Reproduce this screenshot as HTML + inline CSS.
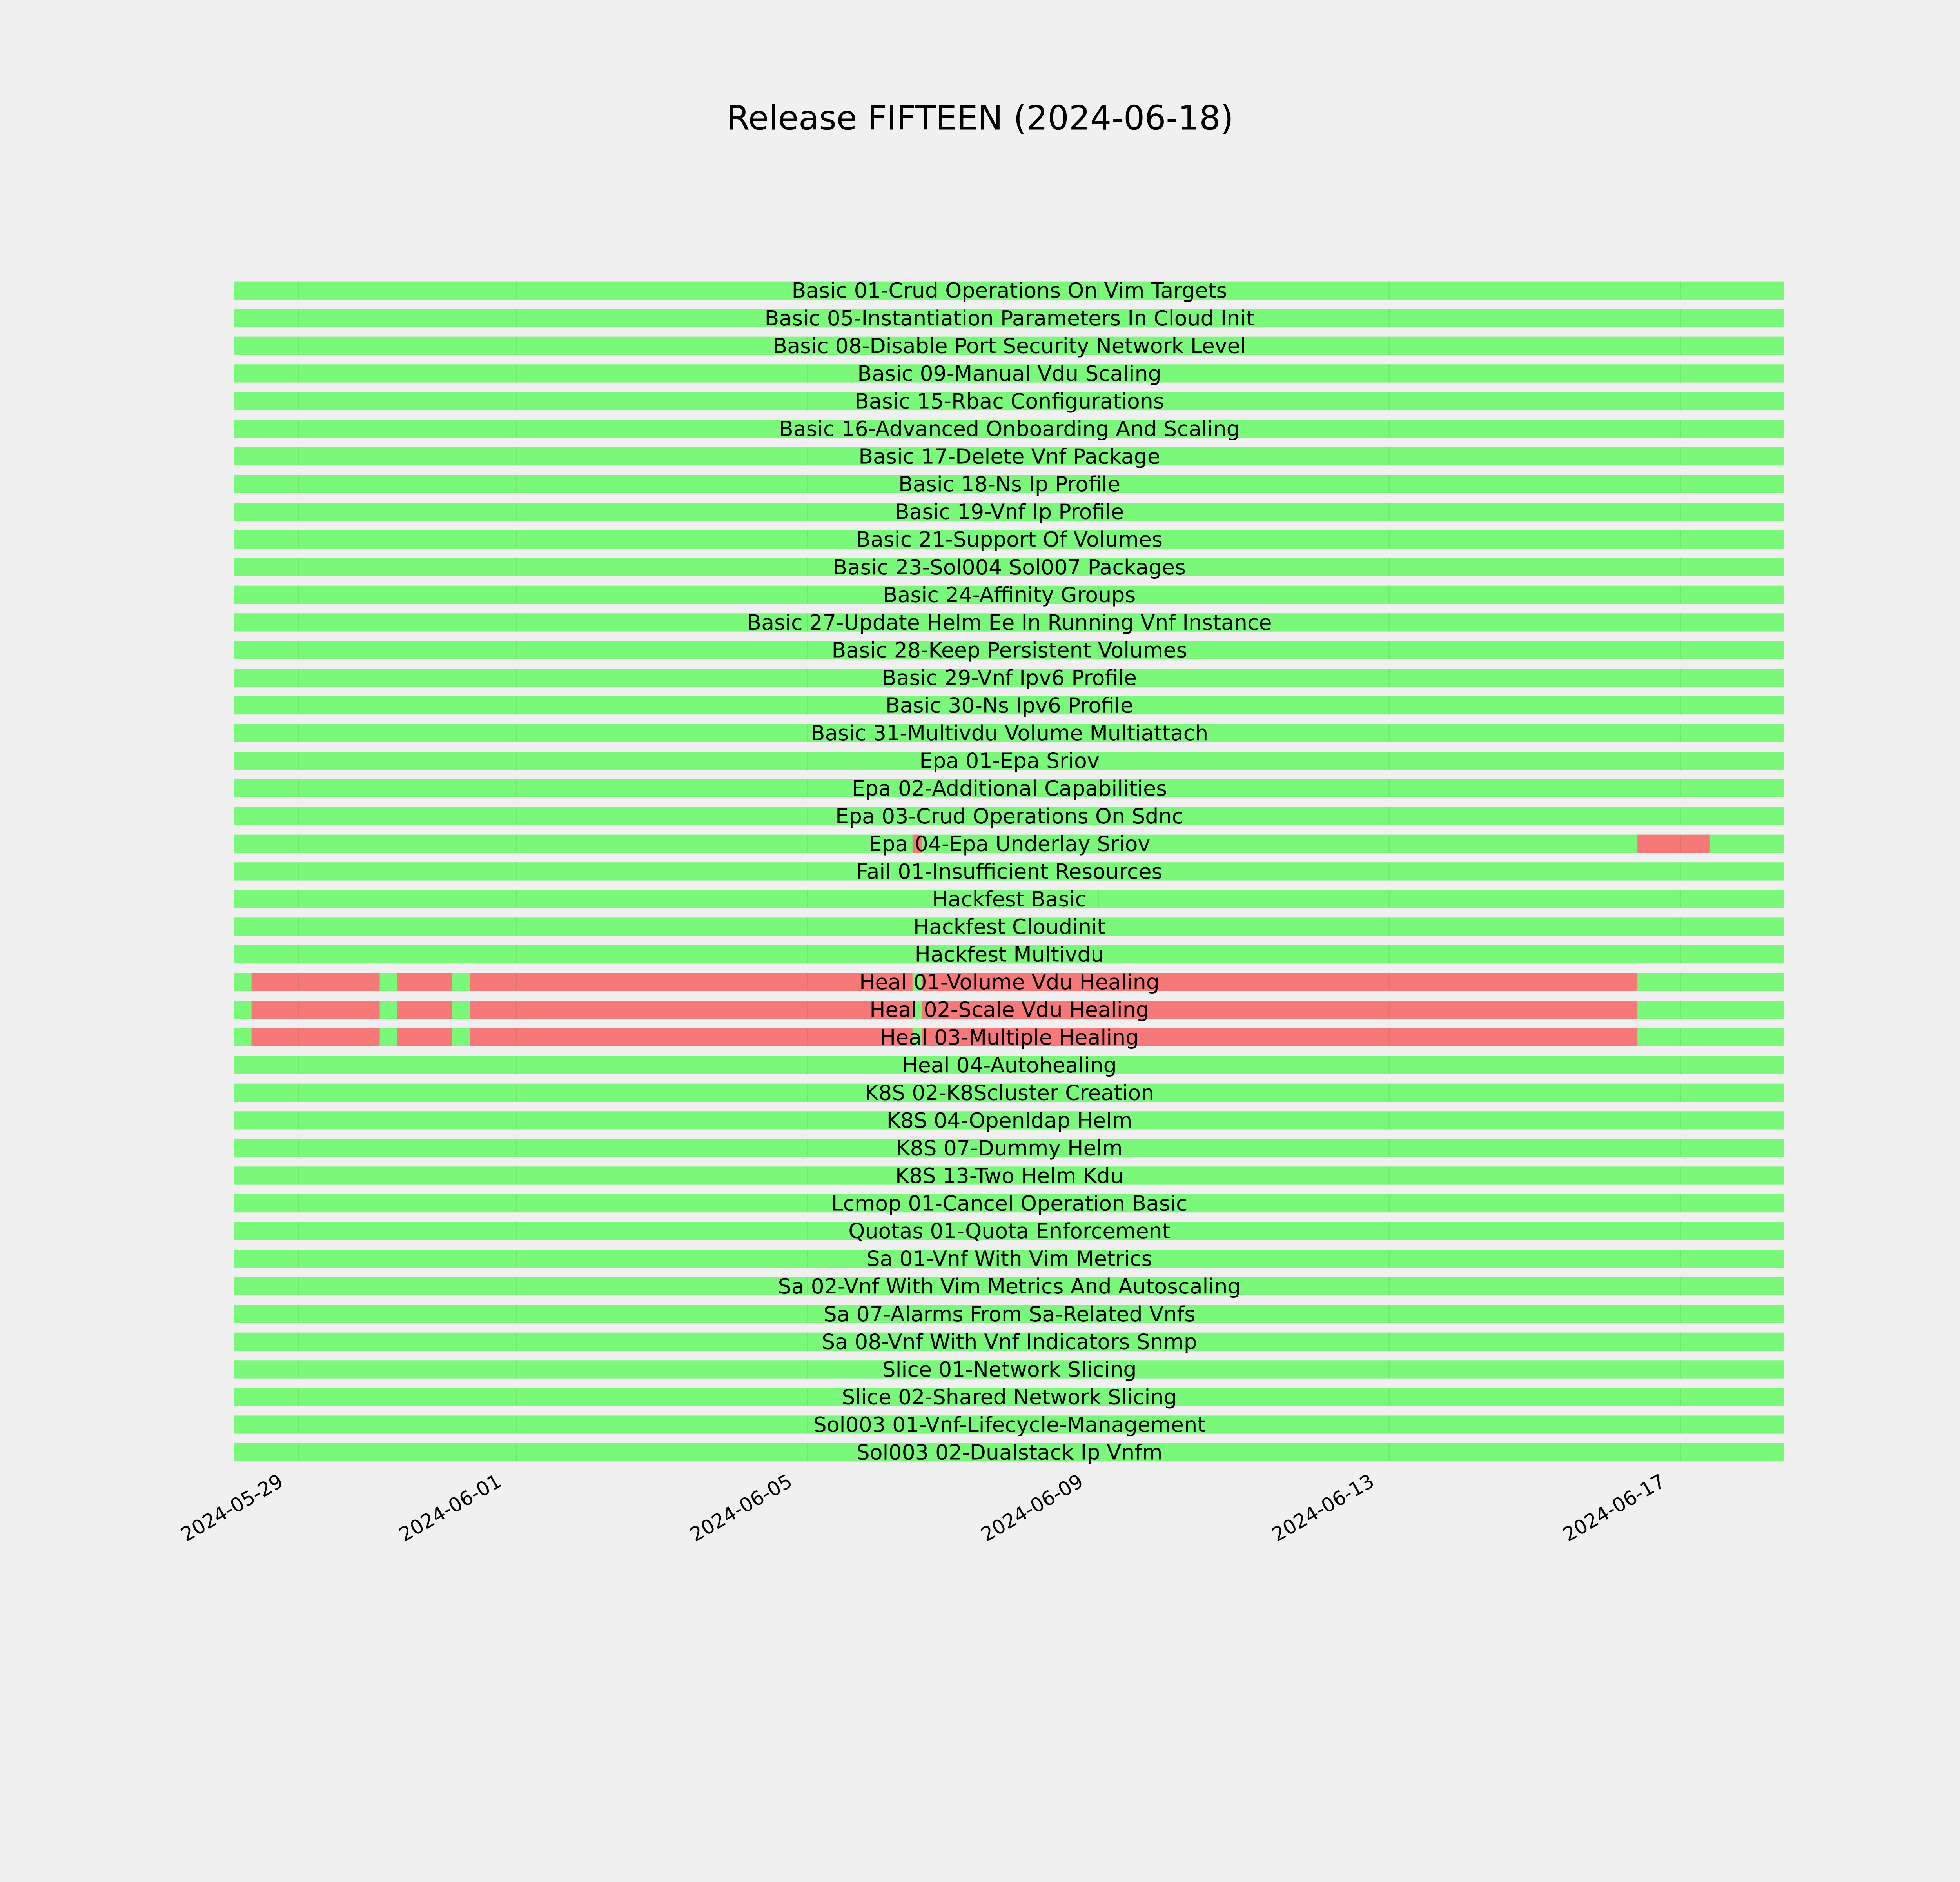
<!DOCTYPE html>
<html><head><meta charset="utf-8"><style>
html,body{margin:0;padding:0;background:#f0f0f0;width:100%;height:100%;overflow:hidden;}
svg{display:block;width:100vw;height:100vh;font-family:"DejaVu Sans","Liberation Sans",sans-serif;}
</style></head><body>
<svg id="chart" viewBox="0 0 5400 4800" preserveAspectRatio="xMidYMid meet" xmlns="http://www.w3.org/2000/svg">
<rect x="0" y="0" width="5400" height="4800" fill="#f0f0f0"/>
<text x="2700" y="165" font-size="92" text-anchor="middle" fill="#000">Release FIFTEEN (2024-06-18)</text>
<g id="bars"></g>
<g id="gridlines"></g>
<g id="labels"></g>
<g id="xticks"></g>
</svg>
<script>
const testNames = ["Basic 01-Crud Operations On Vim Targets","Basic 05-Instantiation Parameters In Cloud Init","Basic 08-Disable Port Security Network Level","Basic 09-Manual Vdu Scaling","Basic 15-Rbac Configurations","Basic 16-Advanced Onboarding And Scaling","Basic 17-Delete Vnf Package","Basic 18-Ns Ip Profile","Basic 19-Vnf Ip Profile","Basic 21-Support Of Volumes","Basic 23-Sol004 Sol007 Packages","Basic 24-Affinity Groups","Basic 27-Update Helm Ee In Running Vnf Instance","Basic 28-Keep Persistent Volumes","Basic 29-Vnf Ipv6 Profile","Basic 30-Ns Ipv6 Profile","Basic 31-Multivdu Volume Multiattach","Epa 01-Epa Sriov","Epa 02-Additional Capabilities","Epa 03-Crud Operations On Sdnc","Epa 04-Epa Underlay Sriov","Fail 01-Insufficient Resources","Hackfest Basic","Hackfest Cloudinit","Hackfest Multivdu","Heal 01-Volume Vdu Healing","Heal 02-Scale Vdu Healing","Heal 03-Multiple Healing","Heal 04-Autohealing","K8S 02-K8Scluster Creation","K8S 04-Openldap Helm","K8S 07-Dummy Helm","K8S 13-Two Helm Kdu","Lcmop 01-Cancel Operation Basic","Quotas 01-Quota Enforcement","Sa 01-Vnf With Vim Metrics","Sa 02-Vnf With Vim Metrics And Autoscaling","Sa 07-Alarms From Sa-Related Vnfs","Sa 08-Vnf With Vnf Indicators Snmp","Slice 01-Network Slicing","Slice 02-Shared Network Slicing","Sol003 01-Vnf-Lifecycle-Management","Sol003 02-Dualstack Ip Vnfm"];
const rangeStart = "2024-05-28T02:49";
const rangeEnd = "2024-06-18T10:19";
const failTests = ["Epa 04-Epa Underlay Sriov","Epa 04-Epa Underlay Sriov","Heal 01-Volume Vdu Healing","Heal 01-Volume Vdu Healing","Heal 01-Volume Vdu Healing","Heal 01-Volume Vdu Healing","Heal 02-Scale Vdu Healing","Heal 02-Scale Vdu Healing","Heal 02-Scale Vdu Healing","Heal 02-Scale Vdu Healing","Heal 03-Multiple Healing","Heal 03-Multiple Healing","Heal 03-Multiple Healing","Heal 03-Multiple Healing"];
const failStarts = ["2024-06-06T10:38","2024-06-16T09:50","2024-05-28T08:33","2024-05-30T08:41","2024-05-31T08:38","2024-06-06T13:38","2024-05-28T08:33","2024-05-30T08:41","2024-05-31T08:38","2024-06-06T13:38","2024-05-28T08:33","2024-05-30T08:41","2024-05-31T08:38","2024-06-06T13:38"];
const failEnds = ["2024-06-06T13:38","2024-06-17T09:36","2024-05-30T02:50","2024-05-31T02:40","2024-06-06T10:38","2024-06-16T09:50","2024-05-30T02:50","2024-05-31T02:40","2024-06-06T10:38","2024-06-16T09:50","2024-05-30T02:50","2024-05-31T02:40","2024-06-06T10:38","2024-06-16T09:50"];
const tickLabels = ["2024-05-29","2024-06-01","2024-06-05","2024-06-09","2024-06-13","2024-06-17"];

const NS = "http://www.w3.org/2000/svg";
const DAY = 86400000;
const origin = Date.parse("2024-05-29T00:00:00Z");
function t(s){ return Date.parse(s.length===10 ? s+"T00:00:00Z" : s+":00Z"); }
function xScale(s){ return 822 + (t(s)-origin)/DAY*200.4; }
function yScale(i){ return 608 + i*76.2; }
const BH = 50;
const bars = document.getElementById('bars');
const labels = document.getElementById('labels');
const grid = document.getElementById('gridlines');
const xt = document.getElementById('xticks');
function mk(tag, attrs){ const e=document.createElementNS(NS,tag); for(const k in attrs) e.setAttribute(k,attrs[k]); return e; }

testNames.forEach((name,i)=>{
  const yc = yScale(i);
  const g = mk('rect',{x:xScale(rangeStart),y:yc-BH/2,width:xScale(rangeEnd)-xScale(rangeStart),height:BH,fill:'#79f879'});
  
  
  bars.appendChild(g);
  failTests.forEach((fn,j)=>{
    if(fn!==name) return;
    const r = mk('rect',{x:xScale(failStarts[j]),y:yc-BH/2,width:xScale(failEnds[j])-xScale(failStarts[j]),height:BH,fill:'#f67878'});
    
    
    bars.appendChild(r);
  });
  const tx = mk('text',{x:2781,y:yc+20,'font-size':58,'text-anchor':'middle',fill:'#000'});
  tx.textContent = name;
  
  
  labels.appendChild(tx);
});

tickLabels.forEach(d=>{
  const x = xScale(d);
  testNames.forEach((n,i)=>{
    const yc=yScale(i);
    const l = mk('rect',{x:x-2,y:yc-BH/2,width:4,height:BH,fill:'rgba(0,90,0,0.09)'});
    
    
    grid.appendChild(l);
  });
  const lab = mk('text',{x:x-38,y:3899,'font-size':54,'text-anchor':'end',fill:'#000',transform:`rotate(-30 ${x-38} 3899)`});
  lab.textContent = d;
  
  
  xt.appendChild(lab);
});
</script>
</body></html>
